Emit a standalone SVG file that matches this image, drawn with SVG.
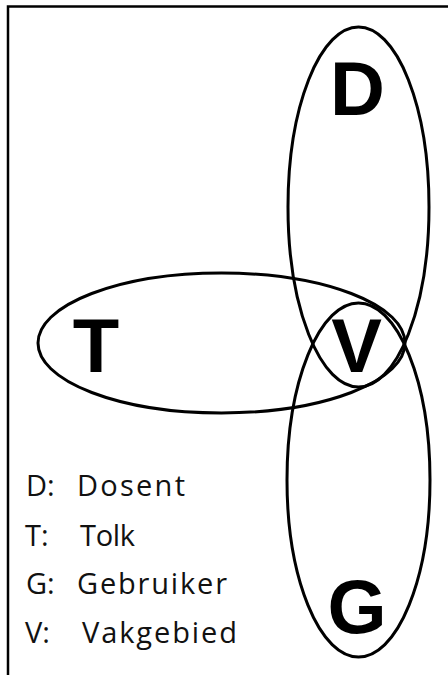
<svg xmlns="http://www.w3.org/2000/svg" width="448" height="675" viewBox="0 0 448 675">
  <style>
    .ring { fill: none; stroke: #000; stroke-width: 3; }
    .big { font-family: "Liberation Sans", Arial, sans-serif; font-weight: bold; font-size: 76px; fill: #000; text-anchor: middle; }
    .key { font-family: "Open Sans", "Liberation Sans", sans-serif; font-size: 29px; fill: #111; }
  </style>
  <rect width="448" height="675" fill="#fff"/>
  <!-- frame (right and bottom edges fall outside the canvas) -->
  <rect x="8" y="6.5" width="470" height="700" fill="none" stroke="#000" stroke-width="2.5"/>

  <g id="node-T">
    <ellipse class="ring" cx="221.5" cy="343" rx="183.5" ry="70"/>
    <text class="big" x="96" y="372">T</text>
  </g>
  <g id="node-D">
    <ellipse class="ring" cx="358.5" cy="207" rx="70.5" ry="180"/>
    <text class="big" x="357.5" y="115">D</text>
  </g>
  <g id="node-G">
    <ellipse class="ring" cx="358.5" cy="480" rx="71.5" ry="177"/>
    <text class="big" x="357" y="633">G</text>
  </g>
  <g id="node-V">
    <text class="big" x="356.5" y="372">V</text>
  </g>

  <g id="legend" class="key">
    <text x="26" y="496">D:</text>
    <text x="77" y="496" textLength="108" lengthAdjust="spacing">Dosent</text>
    <text x="25" y="546">T:</text>
    <text x="80" y="546" textLength="55" lengthAdjust="spacing">Tolk</text>
    <text x="26" y="594">G:</text>
    <text x="77" y="594" textLength="150" lengthAdjust="spacing">Gebruiker</text>
    <text x="25" y="643">V:</text>
    <text x="82" y="643" textLength="155" lengthAdjust="spacing">Vakgebied</text>
  </g>
</svg>
